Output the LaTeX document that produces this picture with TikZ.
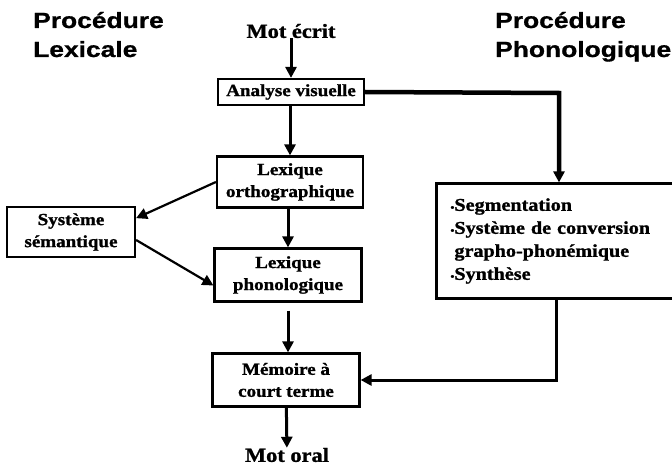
\documentclass[tikz,border=0pt]{standalone}
\usepackage{fontspec}
\setmainfont{Liberation Serif}
\newfontfamily\boitefont{Liberation Serif}[FakeStretch=1.12,FakeBold=1.2]
\newfontfamily\titrefont{Liberation Sans}[FakeStretch=1.2,FakeBold=0.8]
\usetikzlibrary{arrows.meta}
\newcommand{\puce}{{\fontsize{10}{10}\selectfont\textbullet}}

\begin{document}
\begin{tikzpicture}[>={Triangle[length=11pt,width=11pt]},x=1pt,y=-1pt,
  bloc/.style={draw,line width=2.2pt,inner sep=0pt,align=center,
    font=\boitefont\bfseries\fontsize{17}{22}\selectfont},
  fleche/.style={->,line width=3pt},
  titre/.style={anchor=base west,inner sep=0pt,
    font=\titrefont\bfseries\fontsize{22}{29}\selectfont},
  mot/.style={inner sep=0pt,font=\boitefont\bfseries\fontsize{20}{24}\selectfont}]
  \clip (0,0) rectangle (672,465);
  % titres
  \node[titre] (lexA) at (33,28) {Procédure};
  \node[titre] (lexB) at (33,57) {Lexicale};
  \node[titre] (phonA) at (495,28) {Procédure};
  \node[titre] (phonB) at (495,57) {Phonologique};
  % voie lexicale
  \node[mot] (ecrit) at (291,31) {Mot écrit};
  \node[bloc,minimum width=146pt,minimum height=26pt] (ana) at (291,92) {Analyse visuelle};
  \node[bloc,minimum width=146pt,minimum height=51pt] (ortho) at (290,182) {Lexique\\orthographique};
  \node[bloc,minimum width=128pt,minimum height=50pt] (sem) at (71,232) {Système\\sémantique};
  \node[bloc,minimum width=147pt,minimum height=53pt] (phono) at (288,275) {Lexique\\phonologique};
  \node[bloc,minimum width=147pt,minimum height=53pt] (mem) at (286,380) {Mémoire à\\court terme};
  \node[mot] (oral) at (287,455) {Mot oral};
  % voie phonologique
  \node[bloc,align=left,text width=211pt,inner xsep=14pt,minimum height=115pt,
    font=\boitefont\bfseries\fontsize{18}{23}\selectfont] (seg) at (556,241)
    {\puce Segmentation\\\puce Système de conversion\\\phantom{\puce}grapho-phonémique\\\puce Synthèse};
  \coordinate (coin) at (559,93);
  % fleches
  \draw[fleche] (ecrit) -- (ecrit |- ana.north);
  \draw[fleche] (ana.south -| ortho.north) -- (ortho.north);
  \draw[fleche] (ortho.south -| phono.north) -- (phono.north);
  \draw[fleche,line width=2.2pt] (ortho.west) -- (sem.12);
  \draw[fleche,line width=2.2pt] (sem.-7) -- (phono.188);
  \draw[fleche,shorten <=8pt] (phono.south) -- (phono.south |- mem.north);
  \draw[fleche] (mem) -- (oral);
  \draw[fleche,line width=4.5pt] (ana.east) -- (coin) -- (coin |- seg.north);
  \draw[fleche] (seg.south) |- (mem.east);
\end{tikzpicture}
\end{document}
